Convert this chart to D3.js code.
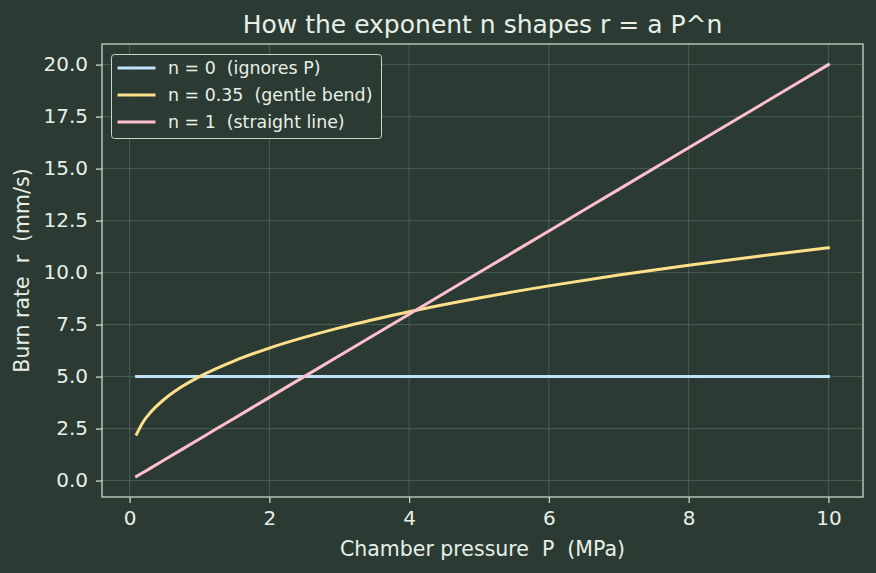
<!DOCTYPE html>
<html>
<head>
<meta charset="utf-8">
<script src="https://cdn.jsdelivr.net/npm/d3@7"></script>
<style>
  body { margin: 0; background: #2b3b34; }
  text { font-family: "DejaVu Sans", sans-serif; fill: #e8efe6; white-space: pre; }
</style>
</head>
<body>
<script>
(function() {

    var width = 876,
        height = 573;

    // pressure samples (MPa)
    var pressure = [0.1, 0.2, 0.3, 0.5, 0.75, 1, 1.5, 2, 3, 4, 5, 6, 7, 8, 9, 10];

    // burn rate (mm/s) for each exponent
    var rateN0 = [5, 5, 5, 5, 5, 5, 5, 5, 5, 5, 5, 5, 5, 5, 5, 5];
    var rateN035 = [2.23, 2.85, 3.28, 3.92, 4.52, 5.0, 5.76, 6.37, 7.34, 8.12, 8.78, 9.36, 9.88, 10.35, 10.79, 11.19];
    var rateN1 = [0.2, 0.4, 0.6, 1.0, 1.5, 2, 3, 4, 6, 8, 10, 12, 14, 16, 18, 20];

    var seriesNames = ["n = 0  (ignores P)", "n = 0.35  (gentle bend)", "n = 1  (straight line)"];
    var seriesColors = ["#bfe3fb", "#ffe08a", "#ffbfd0"];

    var xTicks = [0, 2, 4, 6, 8, 10];
    var yTicks = [0, 2.5, 5, 7.5, 10, 12.5, 15, 17.5, 20];

    var margin = { left: 102, right: 13, top: 44, bottom: 76 };

    var svg = d3.select("body")
        .append("svg")
        .attr("width", width)
        .attr("height", height);

    svg.append("rect")
        .attr("width", width)
        .attr("height", height)
        .attr("fill", "#2b3b34");

    var x = d3.scaleLinear()
        .domain([-0.395, 10.495])
        .range([margin.left, width - margin.right]);

    var y = d3.scaleLinear()
        .domain([-0.79, 20.99])
        .range([height - margin.bottom, margin.top]);

    // grid
    var grid = svg.append("g").attr("class", "grid");
    grid.selectAll(".gx")
        .data(xTicks)
        .enter().append("line")
        .attr("x1", function(d) { return x(d); })
        .attr("x2", function(d) { return x(d); })
        .attr("y1", y.range()[0])
        .attr("y2", y.range()[1])
        .attr("stroke", "#5f7568")
        .attr("stroke-opacity", 0.6)
        .attr("stroke-width", 1);
    grid.selectAll(".gy")
        .data(yTicks)
        .enter().append("line")
        .attr("y1", function(d) { return y(d); })
        .attr("y2", function(d) { return y(d); })
        .attr("x1", x.range()[0])
        .attr("x2", x.range()[1])
        .attr("stroke", "#5f7568")
        .attr("stroke-opacity", 0.6)
        .attr("stroke-width", 1);

    // lines
    var allRates = [rateN0, rateN035, rateN1];
    var line = d3.line()
        .curve(d3.curveMonotoneX)
        .x(function(d, i) { return x(pressure[i]); })
        .y(function(d) { return y(d); });

    svg.append("g")
        .selectAll("path")
        .data(allRates)
        .enter().append("path")
        .attr("d", line)
        .attr("fill", "none")
        .attr("stroke", function(d, i) { return seriesColors[i]; })
        .attr("stroke-width", 3)
        .attr("stroke-linecap", "square");

    // axes
    var xAxis = svg.append("g")
        .attr("transform", "translate(0," + y.range()[0] + ")")
        .call(d3.axisBottom(x).tickValues(xTicks).tickSize(6).tickPadding(8).tickFormat(d3.format("d")));

    var yAxis = svg.append("g")
        .attr("transform", "translate(" + x.range()[0] + ",0)")
        .call(d3.axisLeft(y).tickValues(yTicks).tickSize(6).tickPadding(8).tickFormat(d3.format(".1f")));

    [xAxis, yAxis].forEach(function(ax) {
        ax.select(".domain").remove();
        ax.selectAll(".tick line").attr("stroke", "#c9d6c9").attr("stroke-width", 1.3);
        ax.selectAll(".tick text")
            .attr("fill", "#e8efe6")
            .style("font-size", "20px")
            .style("font-family", "DejaVu Sans");
    });

    // frame
    svg.append("rect")
        .attr("x", x.range()[0])
        .attr("y", y.range()[1])
        .attr("width", x.range()[1] - x.range()[0])
        .attr("height", y.range()[0] - y.range()[1])
        .attr("fill", "none")
        .attr("stroke", "#c9d6c9")
        .attr("stroke-width", 1.3);

    // titles
    svg.append("text")
        .attr("x", (x.range()[0] + x.range()[1]) / 2)
        .attr("y", 33)
        .attr("text-anchor", "middle")
        .style("font-size", "25px")
        .text("How the exponent n shapes r = a P^n");

    svg.append("text")
        .attr("x", (x.range()[0] + x.range()[1]) / 2)
        .attr("y", 556)
        .attr("text-anchor", "middle")
        .style("font-size", "20.5px")
        .text("Chamber pressure  P  (MPa)");

    svg.append("text")
        .attr("transform", "translate(29," + ((y.range()[0] + y.range()[1]) / 2) + ") rotate(-90)")
        .attr("text-anchor", "middle")
        .style("font-size", "20.5px")
        .text("Burn rate  r  (mm/s)");

    // legend
    var legend = svg.append("g")
        .attr("transform", "translate(111.5,54.5)");

    legend.append("rect")
        .attr("width", 270)
        .attr("height", 84)
        .attr("rx", 3)
        .attr("fill", "#2b3b34")
        .attr("fill-opacity", 0.85)
        .attr("stroke", "#c9d6c9")
        .attr("stroke-width", 1);

    var item = legend.selectAll(".item")
        .data(seriesNames)
        .enter().append("g")
        .attr("transform", function(d, i) { return "translate(0," + (13.5 + i * 27) + ")"; });

    item.append("line")
        .attr("x1", 6)
        .attr("x2", 44)
        .attr("stroke", function(d, i) { return seriesColors[i]; })
        .attr("stroke-width", 3);

    item.append("text")
        .attr("x", 56.5)
        .attr("dy", "0.35em")
        .style("font-size", "17.4px")
        .text(function(d) { return d; });

})();
</script>
</body>
</html>
